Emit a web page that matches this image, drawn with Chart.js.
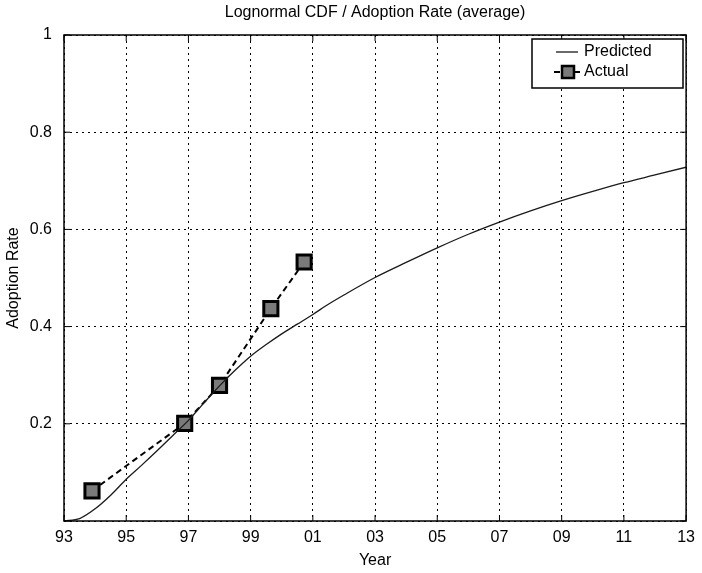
<!DOCTYPE html>
<html>
<head>
<meta charset="utf-8">
<title>Lognormal CDF / Adoption Rate</title>
<script src="https://cdn.jsdelivr.net/npm/chart.js@4.4.1/dist/chart.umd.min.js"></script>
<style>
  html, body { margin: 0; padding: 0; background: #fff; }
  canvas { display: block; }
</style>
</head>
<body>
<canvas id="adoptionChart" width="702" height="573"></canvas>
<script>
// tick labels
const xTickLabels = ['93', '95', '97', '99', '01', '03', '05', '07', '09', '11', '13'];
const yTickLabels = ['', '0.2', '0.4', '0.6', '0.8', '1'];
const chartTitle = 'Lognormal CDF / Adoption Rate (average)';

// predicted lognormal curve
const predictedYears = [1993, 1993.5, 1994, 1994.5, 1995, 1995.5, 1996, 1996.5, 1997, 1997.5,
  1998, 1998.5, 1999, 1999.5, 2000, 2000.5, 2001, 2001.5, 2002, 2003, 2004, 2005, 2006,
  2007, 2008, 2009, 2010, 2011, 2012, 2013];
const predictedRate = [0, 0.005, 0.025, 0.053, 0.086, 0.115, 0.145, 0.176, 0.207, 0.243,
  0.278, 0.310, 0.339, 0.363, 0.385, 0.405, 0.425, 0.446, 0.465, 0.501, 0.532, 0.562, 0.590,
  0.615, 0.638, 0.659, 0.678, 0.696, 0.712, 0.728];

// actual observations
const actualYears = [1993.9, 1996.88, 1998.0, 1999.65, 2000.72];
const actualRate = [0.062, 0.201, 0.279, 0.437, 0.533];

const FONT = "'Liberation Sans', Arial, Helvetica, sans-serif";

// 🔵 title, box, inward ticks and legend (matlab style)
const matlabFrame = {
  id: 'matlabFrame',
  beforeDraw(chart) {
    const ctx = chart.ctx;
    ctx.save();
    ctx.fillStyle = '#fff';
    ctx.fillRect(0, 0, chart.width, chart.height);
    ctx.restore();
  },
  afterDraw(chart) {
    const ctx = chart.ctx;
    const a = chart.chartArea;
    const xs = chart.scales.x;
    const ys = chart.scales.y;
    const tick = 6;

    ctx.save();
    // title centred over the axes
    ctx.fillStyle = '#000';
    ctx.font = '16px ' + FONT;
    ctx.textAlign = 'center';
    ctx.textBaseline = 'middle';
    ctx.fillText(chartTitle, (a.left + a.right) / 2, 13);

    ctx.strokeStyle = '#000';
    ctx.lineWidth = 1.5;
    ctx.strokeRect(a.left, a.top, a.right - a.left, a.bottom - a.top);

    ctx.lineWidth = 1;
    ctx.beginPath();
    xs.ticks.forEach(t => {
      const px = xs.getPixelForValue(t.value);
      ctx.moveTo(px, a.bottom); ctx.lineTo(px, a.bottom - tick);
      ctx.moveTo(px, a.top); ctx.lineTo(px, a.top + tick);
    });
    ys.ticks.forEach(t => {
      const py = ys.getPixelForValue(t.value);
      ctx.moveTo(a.left, py); ctx.lineTo(a.left + tick, py);
      ctx.moveTo(a.right, py); ctx.lineTo(a.right - tick, py);
    });
    ctx.stroke();

    // legend
    const box = { left: 532, top: 39, right: 683, bottom: 88 };
    ctx.fillStyle = '#fff';
    ctx.fillRect(box.left, box.top, box.right - box.left, box.bottom - box.top);
    ctx.lineWidth = 1.5;
    ctx.strokeRect(box.left, box.top, box.right - box.left, box.bottom - box.top);

    const pred = chart.data.datasets[0];
    const act = chart.data.datasets[1];
    const row1 = 52, row2 = 72;

    ctx.strokeStyle = pred.borderColor;
    ctx.lineWidth = pred.borderWidth;
    ctx.beginPath();
    ctx.moveTo(556, row1); ctx.lineTo(578, row1);
    ctx.stroke();

    ctx.strokeStyle = act.borderColor;
    ctx.lineWidth = act.borderWidth;
    ctx.setLineDash(act.borderDash);
    ctx.beginPath();
    ctx.moveTo(554, row2); ctx.lineTo(582, row2);
    ctx.stroke();
    ctx.setLineDash([]);
    ctx.fillStyle = act.pointBackgroundColor;
    ctx.fillRect(562, row2 - 6, 12, 12);
    ctx.lineWidth = 2.5;
    ctx.strokeRect(562, row2 - 6, 12, 12);

    ctx.fillStyle = '#000';
    ctx.textAlign = 'left';
    ctx.fillText(pred.label, 584, row1);
    ctx.fillText(act.label, 584, row2);
    ctx.restore();
  }
};

const ctx = document.getElementById('adoptionChart').getContext('2d');

window.adoptionChart = new Chart(ctx, {
  type: 'line',
  data: {
    datasets: [
      {
        label: 'Predicted',
        data: predictedYears.map((yr, i) => ({ x: yr, y: predictedRate[i] })),
        borderColor: '#1a1a1a',
        borderWidth: 1.3,
        pointRadius: 0,
        cubicInterpolationMode: 'monotone',
        fill: false
      },
      {
        label: 'Actual',
        data: actualYears.map((yr, i) => ({ x: yr, y: actualRate[i] })),
        borderColor: '#000',
        borderWidth: 2,
        borderDash: [6, 4],
        pointStyle: 'rect',
        pointRadius: 10,
        pointBorderWidth: 3,
        pointBorderColor: '#000',
        pointBackgroundColor: '#7a7a7a',
        tension: 0,
        fill: false
      }
    ]
  },
  options: {
    responsive: false,
    animation: false,
    devicePixelRatio: 1,
    layout: { padding: { top: 35, right: 12, bottom: 0, left: 0 } },
    plugins: {
      legend: { display: false },
      tooltip: { enabled: false },
      title: { display: false }
    },
    scales: {
      x: {
        type: 'linear',
        min: 1993,
        max: 2013,
        afterFit: scale => { scale.height = 52; },
        ticks: {
          stepSize: 2,
          autoSkip: false,
          maxRotation: 0,
          color: '#000',
          padding: 7,
          font: { family: FONT, size: 16 },
          callback: (v, i) => xTickLabels[i]
        },
        grid: { color: '#000', lineWidth: 1, drawTicks: false },
        border: { display: false, dash: [2, 4] },
        title: {
          display: true,
          text: 'Year',
          color: '#000',
          font: { family: FONT, size: 16 },
          padding: { top: 0, bottom: 3 }
        }
      },
      y: {
        min: 0,
        max: 1,
        afterFit: scale => { scale.width = 64; },
        ticks: {
          stepSize: 0.2,
          color: '#000',
          padding: 12,
          font: { family: FONT, size: 16 },
          callback: (v, i) => yTickLabels[i]
        },
        grid: { color: '#000', lineWidth: 1, drawTicks: false },
        border: { display: false, dash: [2, 4] },
        title: {
          display: true,
          text: 'Adoption Rate',
          color: '#000',
          font: { family: FONT, size: 16 },
          padding: { top: 4, bottom: 0 }
        }
      }
    }
  },
  plugins: [matlabFrame]
});
</script>
</body>
</html>
